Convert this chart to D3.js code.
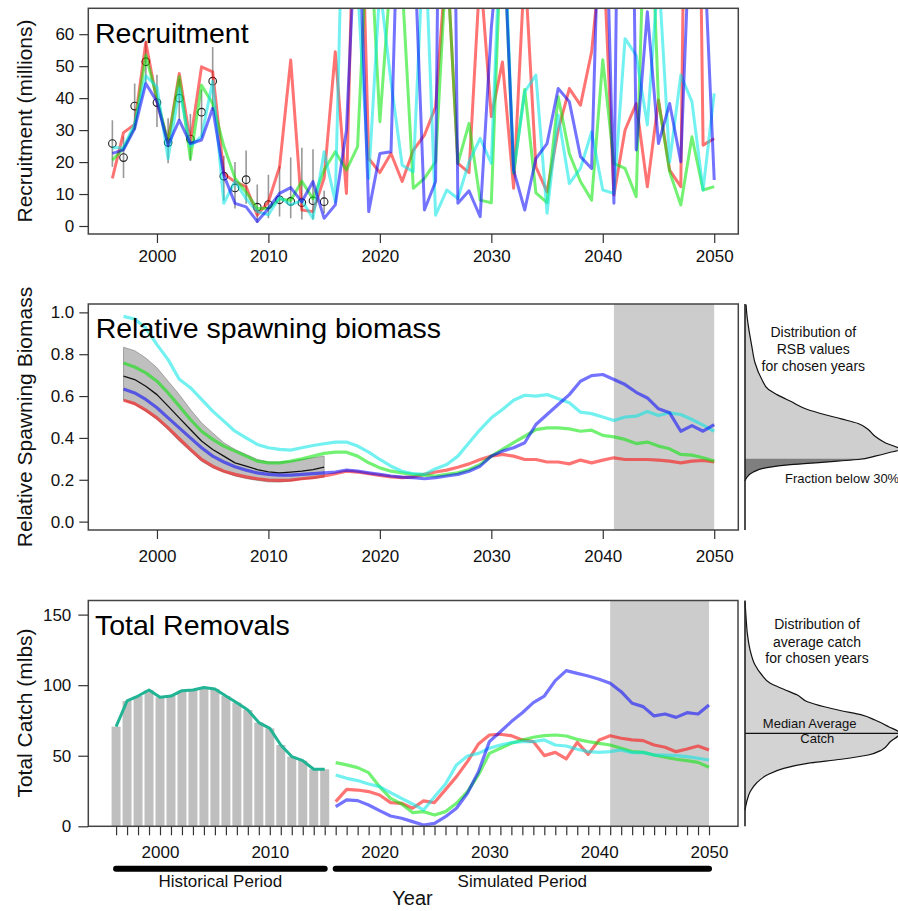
<!DOCTYPE html>
<html><head><meta charset="utf-8">
<script src="https://cdn.jsdelivr.net/npm/d3@7"></script>
<style>
body{margin:0;background:#fff}
svg{display:block}
text{font-family:"Liberation Sans",Arial,Helvetica,sans-serif}
</style>
</head><body>
<svg id="c" width="898" height="911"></svg>
<script>
// ---------------- DATA ----------------
const recYears = d3.range(1996, 2051);
const obsYears = d3.range(1996, 2016);
const recObs   = [25.8,21.4,37.5,51.4,38.6,26.1,40.0,27.2,35.6,45.3,15.6,11.9,14.5,5.9,6.7,8.2,7.7,7.3,7.9,7.6];
const recObsHi = [33.1,28.0,44.6,58.0,47.3,33.7,46.0,35.0,42.6,56.0,22.0,20.0,23.6,13.0,16.0,18.8,21.4,24.5,24.0,11.0];
const recObsLo = [18.5,15.0,30.0,45.0,31.0,19.6,33.0,20.3,28.0,36.0,8.0,5.5,7.0,1.0,2.4,3.0,2.4,2.0,2.0,4.0];

const recRed = [14.9,29.2,31.8,57.4,38.9,26.4,47.7,26.4,49.8,48.2,16.4,13.8,12.3,3.4,7.6,18.5,51.9,5.0,4.5,15.0,
  54.5,10.2,150,21.1,16.7,22.7,13.9,23.7,28.4,37.3,85,19.6,16.7,80,34.2,51.3,11.8,82,18.5,10.7,
  30,43,37.8,54.5,90,9.7,30,38.3,12.3,39.4,17.5,12.3,300,25.3,27.4];
const recGreen = [20.6,24.3,31.0,53.4,40.0,26.0,46.7,21.0,44.0,38.3,25.0,15.0,10.5,5.5,5.5,8.5,8.0,14.0,8.5,17.5,
  23.2,17.5,24.8,100,32.6,80,76,11.8,14.9,20.1,85,19.6,32.1,8.1,7.3,101,16.5,42.7,10.4,7.3,
  40.4,22.7,13.9,8.1,52,19.6,18,9.2,130,38.9,17,6.6,27.9,11.25,12.3];
const recCyan = [24.5,24.5,32.0,47.0,43.5,21.0,43.0,25.0,28.0,45.3,7.1,14.0,8.5,4.5,3.5,9.0,6.6,8.0,2.4,23.2,
  7.6,150,75,14.9,75,45.1,19,17,95,3.4,11.25,8.6,20.1,27.4,19.6,108,17,42,47.2,4,
  34.7,13.3,18,29.5,11.25,10.2,58.6,53.4,31.6,80,20,47.2,38.9,11.25,41.5];
const recBlue = [22.7,23.8,30.5,44.6,38.9,25.3,33.1,25.8,26.9,36.8,15.9,7.1,6.0,1.4,5.5,10.2,12.0,7.6,13.9,2.4,
  6.6,30,107,4.5,22.7,23.2,147,96,5,13.9,340,7.1,11,2.9,62,100,17.5,5,21.1,25.8,
  43,38.9,21.7,18,140,7.1,300,23.75,67,25.8,38.3,20.1,110,94,14.4];

const rsbYears = d3.range(1997, 2051);
const rsbCyan = [0.981,0.968,0.925,0.846,0.774,0.68,0.64,0.584,0.528,0.48,0.432,0.40,0.369,0.353,0.345,0.342,0.353,0.364,0.372,
  0.38,0.38,0.361,0.332,0.297,0.265,0.241,0.229,0.226,0.253,0.273,0.313,0.377,0.44,0.496,0.536,0.58,0.604,0.60,0.607,
  0.587,0.568,0.523,0.516,0.50,0.483,0.50,0.504,0.526,0.507,0.52,0.512,0.488,0.461,0.432];
const rsbGreen = [0.758,0.739,0.711,0.671,0.615,0.552,0.488,0.432,0.393,0.361,0.337,0.313,0.289,0.281,0.281,0.289,0.30,0.313,0.326,
  0.332,0.332,0.313,0.281,0.257,0.241,0.233,0.226,0.222,0.218,0.226,0.233,0.249,0.273,0.313,0.345,0.377,0.408,0.44,0.448,
  0.448,0.443,0.432,0.437,0.412,0.405,0.393,0.373,0.38,0.361,0.348,0.321,0.318,0.305,0.289];
const rsbBlue = [0.634,0.615,0.584,0.544,0.496,0.448,0.40,0.353,0.313,0.285,0.262,0.246,0.233,0.226,0.222,0.222,0.226,0.229,0.233,
  0.237,0.246,0.241,0.233,0.226,0.218,0.213,0.21,0.205,0.21,0.218,0.226,0.241,0.265,0.313,0.337,0.353,0.377,0.464,0.512,
  0.56,0.607,0.671,0.698,0.703,0.679,0.655,0.618,0.591,0.539,0.52,0.432,0.459,0.432,0.464];
const rsbRed = [0.58,0.564,0.533,0.496,0.448,0.396,0.345,0.297,0.265,0.241,0.226,0.214,0.205,0.198,0.197,0.198,0.205,0.21,0.218,
  0.229,0.241,0.237,0.229,0.221,0.214,0.21,0.214,0.226,0.237,0.246,0.26,0.276,0.297,0.313,0.321,0.313,0.297,0.297,0.285,
  0.285,0.276,0.294,0.281,0.294,0.305,0.297,0.297,0.297,0.294,0.289,0.281,0.289,0.292,0.285];
const rsbHistYears = d3.range(1997, 2016);
const rsbMedian = [0.695,0.679,0.647,0.607,0.552,0.496,0.44,0.385,0.345,0.313,0.281,0.265,0.249,0.238,0.233,0.237,0.241,0.249,0.26];
const rsbUpper  = [0.833,0.817,0.782,0.735,0.671,0.607,0.536,0.472,0.424,0.377,0.345,0.321,0.297,0.285,0.285,0.289,0.297,0.305,0.313];
const rsbLower  = [0.58,0.56,0.528,0.488,0.44,0.385,0.337,0.289,0.257,0.237,0.218,0.206,0.197,0.19,0.189,0.194,0.202,0.206,0.213];

const rsbDenValue = [1.037,0.997,0.933,0.838,0.758,0.679,0.631,0.607,0.575,0.536,0.512,0.491,0.469,0.440,0.408,0.377,0.345,0.329,0.313,0.297,0.284,0.272,0.258,0.237,0.210,0.194];
const rsbDensity  = [0.007,0.011,0.022,0.044,0.065,0.109,0.152,0.207,0.294,0.403,0.512,0.621,0.730,0.795,0.839,0.904,1.0,0.926,0.839,0.730,0.512,0.294,0.142,0.054,0.011,0];
const rsbThreshold = 0.3;

const catchHistYears = d3.range(1996, 2016);
const catchHist = [70.6,88.8,92.3,96.6,91.4,92.3,96.1,96.6,98.3,97.3,92.3,87.6,82.4,73.5,69.4,57.6,49.4,46.5,40.4,40.4];
const catchSimYears = d3.range(2016, 2051);
const catchRed = [17.5,26.2,25.7,24.6,22.2,16.8,16.3,12.8,18,16.8,26,35.2,45.8,58.3,64.7,65.2,64.2,61.2,60,50.1,52.4,47.7,59.5,51,61.2,64.2,62.4,61.2,60.7,57.6,56,52.9,54.8,56.9,54.1];
const catchGreen = [45.1,43.5,41.6,38,28.1,19.8,15.8,9.7,10.4,8,10.4,16.3,24.6,36.4,51.7,55.3,58.8,61.2,63.1,64.2,64.7,64,61.6,60,58.8,57.6,55.3,52.9,52.4,50.5,48.9,47.5,46.5,45.3,41.8];
const catchCyan = [36.4,34,32.4,30,28.1,23.9,19.8,15.8,11.6,21,30,43.5,49.8,51.7,55.3,57.6,59.3,60,60,61.2,57.6,56.9,54.6,52.9,52.4,52.9,54.1,52.2,52.4,50.5,50.5,50.1,49.4,48.2,47];
const catchBlue = [13.9,18.7,18.2,15.1,11.1,7.3,5.7,3.3,0.9,2.1,6.8,12.8,23.4,38.7,60,67,74.2,80.5,87.6,92.3,103.2,110.3,108.4,106.5,104.2,101.3,95.4,87.2,84.8,78.2,79.6,77.2,80.5,79.6,86];

const catchDenValue = [159.2,148.5,136.7,124.9,114.3,107.2,101.3,97.1,93.0,88.3,84.7,81.9,78.9,75.3,70.6,65.9,59.9,54.1,50.5,47.5,44.6,41.1,36.3,30.9,24.5,17.4,11.5];
const catchDensity  = [0,0.0065,0.015,0.033,0.065,0.109,0.163,0.25,0.338,0.403,0.512,0.621,0.752,0.839,0.926,1.0,0.937,0.882,0.795,0.621,0.403,0.25,0.142,0.076,0.033,0.011,0];
const medianAvgCatch = 65.9;

const chosenYears = [2041, 2050];
const decadeTicks = [2000, 2010, 2020, 2030, 2040, 2050];
const recTicks = [0,10,20,30,40,50,60];
const rsbTicks = [0,0.2,0.4,0.6,0.8,1.0];
const catchTicks = [0,50,100,150];

const colRed = "rgba(255,0,0,0.55)", colGreen = "rgba(0,230,0,0.55)",
      colCyan = "rgba(0,230,230,0.55)", colBlue = "rgba(0,0,255,0.55)";

// ---------------- DRAW ----------------
const svg = d3.select("#c");
const FONT = '"Liberation Sans",Arial,Helvetica,sans-serif';
const L = 88.3, R = 738.3;

const xTop = d3.scaleLinear().domain([1993.84, 2052.16]).range([L, R]);
const yRec = d3.scaleLinear().domain([-2.5, 68.1]).range([234, 8.3]);
const yRsb = d3.scaleLinear().domain([-0.04, 1.04]).range([530, 304]);
const xBot = d3.scaleLinear().domain([1993.47, 2052.64]).range([L, 738]);
const yCat = d3.scaleLinear().domain([0, 160]).range([826.3, 600.5]);
const xDen = d3.scaleLinear().domain([0, 1]).range([745, 900]);

const defs = svg.append("defs");
function clip(id, x, y, w, h){ defs.append("clipPath").attr("id", id).append("rect").attr("x",x).attr("y",y).attr("width",w).attr("height",h); return `url(#${id})`; }

function series(g, xs, ys, x, y, color, w){
  g.append("path").datum(xs.map((d,i)=>[d, ys[i]]))
    .attr("fill","none").attr("stroke",color).attr("stroke-width",w||3)
    .attr("stroke-linejoin","round")
    .attr("d", d3.line().x(d=>x(d[0])).y(d=>y(d[1])));
}

function yAxis(scale, ticks, fmt, size, pad){
  const g = svg.append("g").attr("transform",`translate(${L},0)`)
    .call(d3.axisLeft(scale).tickValues(ticks).tickSize(size).tickPadding(pad).tickFormat(fmt));
  g.select(".domain").remove();
  g.attr("font-family", FONT).attr("font-size", 17);
  g.selectAll(".tick line").attr("stroke","#333").attr("stroke-width",1.2);
  g.selectAll(".tick text").attr("fill","#111");
}
function xAxis(scale, y0, ticks, labelFilter, baseline){
  const g = svg.append("g").attr("transform",`translate(0,${y0})`)
    .call(d3.axisBottom(scale).tickValues(ticks).tickSize(9).tickFormat(d => labelFilter(d) ? d : ""));
  g.select(".domain").remove();
  g.attr("font-family", FONT).attr("font-size", 17);
  g.selectAll(".tick line").attr("stroke","#333").attr("stroke-width",1.2);
  g.selectAll(".tick text").attr("fill","#111").attr("y", baseline - y0).attr("dy", 0);
}
function box(x0,y0,x1,y1){
  svg.append("rect").attr("x",x0).attr("y",y0).attr("width",x1-x0).attr("height",y1-y0)
    .attr("fill","none").attr("stroke","#444").attr("stroke-width",1.5);
}
function ylabel(txt, cy){
  svg.append("text").attr("transform",`translate(32,${cy}) rotate(-90)`)
    .attr("text-anchor","middle").attr("font-size",21).attr("fill","#111").text(txt);
}
function title(txt, x, y){
  svg.append("text").attr("x",x).attr("y",y).attr("font-size",28.5).attr("fill","#000").text(txt);
}

// ===== Panel 1: Recruitment =====
const g1 = svg.append("g").attr("clip-path", clip("c1", L, 8.3, R-L, 234-8.3));
obsYears.forEach((yr,i)=>{
  g1.append("line").attr("x1",xTop(yr)).attr("x2",xTop(yr))
    .attr("y1",yRec(recObsLo[i])).attr("y2",yRec(recObsHi[i]))
    .attr("stroke","#999").attr("stroke-width",1.6);
});
g1.selectAll("circle.obs").data(obsYears).enter().append("circle")
  .attr("cx",d=>xTop(d)).attr("cy",(d,i)=>yRec(recObs[i])).attr("r",3.8)
  .attr("fill","none").attr("stroke","#222").attr("stroke-width",1.1);
series(g1, recYears, recRed, xTop, yRec, colRed);
series(g1, recYears, recGreen, xTop, yRec, colGreen);
series(g1, recYears, recCyan, xTop, yRec, colCyan);
series(g1, recYears, recBlue, xTop, yRec, colBlue);
box(L, 8.3, R, 234);
yAxis(yRec, recTicks, d3.format("d"), 9, 5);
xAxis(xTop, 234, decadeTicks, ()=>true, 262.3);
ylabel("Recruitment (millions)", 121);
title("Recruitment", 95, 43.3);

// ===== Panel 2: RSB =====
const g2 = svg.append("g").attr("clip-path", clip("c2", L, 304, R-L, 226));
g2.append("rect").attr("x",xTop(chosenYears[0])).attr("width",xTop(chosenYears[1])-xTop(chosenYears[0]))
  .attr("y",304).attr("height",226).attr("fill","#cccccc");
g2.append("path").datum(rsbHistYears.map((d,i)=>[d, rsbUpper[i], rsbLower[i]]))
  .attr("fill","rgba(128,128,128,0.5)").attr("stroke","#888").attr("stroke-width",0.7)
  .attr("d", d3.area().x(d=>xTop(d[0])).y0(d=>yRsb(d[2])).y1(d=>yRsb(d[1])));
series(g2, rsbHistYears, rsbMedian, xTop, yRsb, "#111", 1.3);
series(g2, rsbYears, rsbRed, xTop, yRsb, colRed, 3.2);
series(g2, rsbYears, rsbGreen, xTop, yRsb, colGreen, 3.2);
series(g2, rsbYears, rsbCyan, xTop, yRsb, colCyan, 3.2);
series(g2, rsbYears, rsbBlue, xTop, yRsb, colBlue, 3.2);
box(L, 304, R, 530);
yAxis(yRsb, rsbTicks, d3.format(".1f"), 9, 5);
xAxis(xTop, 530, decadeTicks, ()=>true, 561.7);
ylabel("Relative Spawning Biomass", 417);
title("Relative spawning biomass", 95.7, 338);

// RSB density
const rsbDen = rsbDenValue.map((v,i)=>({v, d:rsbDensity[i]}));
const areaR = d3.area().curve(d3.curveMonotoneY).y(d=>yRsb(d.v)).x0(xDen(0)).x1(d=>xDen(d.d));
const lineR = d3.line().curve(d3.curveMonotoneY).y(d=>yRsb(d.v)).x(d=>xDen(d.d));
svg.append("path").datum(rsbDen).attr("fill","#cfcfcf").attr("d", areaR);
const cth = clip("cth", 740, yRsb(rsbThreshold), 170, 100);
svg.append("path").datum(rsbDen).attr("fill","#7f7f7f").attr("clip-path", cth).attr("d", areaR);
svg.append("path").datum(rsbDen).attr("fill","none").attr("stroke","#111").attr("stroke-width",1.2).attr("d", lineR);
svg.append("line").attr("x1",745).attr("x2",745).attr("y1",304).attr("y2",530).attr("stroke","#222").attr("stroke-width",1.6);
[["Distribution of",336.7],["RSB values",354],["for chosen years",371.3]].forEach(t=>{
  svg.append("text").attr("x",813.3).attr("y",t[1]).attr("text-anchor","middle").attr("font-size",14).attr("fill","#111").text(t[0]);
});
svg.append("text").attr("x",785).attr("y",483.3).attr("font-size",13).attr("fill","#111").text("Fraction below 30%");

// ===== Panel 3: Total Removals =====
const g3 = svg.append("g").attr("clip-path", clip("c3", L, 600.5, 738-L, 826.3-600.5));
g3.append("rect").attr("x",xBot(chosenYears[0])).attr("width",xBot(chosenYears[1])-xBot(chosenYears[0]))
  .attr("y",600.5).attr("height",226).attr("fill","#cccccc");
const bw = 9.0;
g3.selectAll("rect.bar").data(catchHistYears).enter().append("rect")
  .attr("x",d=>xBot(d)-bw/2).attr("width",bw)
  .attr("y",(d,i)=>yCat(catchHist[i])).attr("height",(d,i)=>yCat(0)-yCat(catchHist[i]))
  .attr("fill","#bfbfbf");
series(g3, catchHistYears, catchHist, xBot, yCat, "#20b495", 3);
series(g3, catchSimYears, catchRed, xBot, yCat, colRed, 3.2);
series(g3, catchSimYears, catchGreen, xBot, yCat, colGreen, 3.2);
series(g3, catchSimYears, catchCyan, xBot, yCat, colCyan, 3.2);
series(g3, catchSimYears, catchBlue, xBot, yCat, colBlue, 3.2);
box(L, 600.5, 738, 826.3);
yAxis(yCat, catchTicks, d3.format("d"), 10, 7);
xAxis(xBot, 826.3, recYears, d=>d%10===0, 858.3);
ylabel("Total Catch (mlbs)", 713);
title("Total Removals", 95, 635);

// catch density
const catDen = catchDenValue.map((v,i)=>({v, d:catchDensity[i]}));
const areaC = d3.area().curve(d3.curveMonotoneY).y(d=>yCat(d.v)).x0(xDen(0)).x1(d=>xDen(d.d));
const lineC = d3.line().curve(d3.curveMonotoneY).y(d=>yCat(d.v)).x(d=>xDen(d.d));
svg.append("path").datum(catDen).attr("fill","#d3d3d3").attr("d", areaC);
svg.append("path").datum(catDen).attr("fill","none").attr("stroke","#111").attr("stroke-width",1.2).attr("d", lineC);
svg.append("line").attr("x1",745).attr("x2",898).attr("y1",yCat(medianAvgCatch)).attr("y2",yCat(medianAvgCatch)).attr("stroke","#111").attr("stroke-width",1.2);
svg.append("line").attr("x1",745).attr("x2",745).attr("y1",600.5).attr("y2",826.3).attr("stroke","#222").attr("stroke-width",1.6);
[["Distribution of",629],["average catch",646.7],["for chosen years",663.3]].forEach(t=>{
  svg.append("text").attr("x",817).attr("y",t[1]).attr("text-anchor","middle").attr("font-size",14).attr("fill","#111").text(t[0]);
});
svg.append("text").attr("x",809.7).attr("y",728.3).attr("text-anchor","middle").attr("font-size",13).attr("fill","#111").text("Median Average");
svg.append("text").attr("x",817.3).attr("y",743.3).attr("text-anchor","middle").attr("font-size",13).attr("fill","#111").text("Catch");

// period bars
const periods = [["Historical Period",1996,2015],["Simulated Period",2016,2050]];
periods.forEach(p=>{
  svg.append("line").attr("x1",xBot(p[1])).attr("x2",xBot(p[2])).attr("y1",868.7).attr("y2",868.7)
    .attr("stroke","#000").attr("stroke-width",6).attr("stroke-linecap","round");
  svg.append("text").attr("x",(xBot(p[1])+xBot(p[2]))/2).attr("y",886.7).attr("text-anchor","middle")
    .attr("font-size",17).attr("fill","#111").text(p[0]);
});
svg.append("text").attr("x",412.5).attr("y",905).attr("text-anchor","middle").attr("font-size",20).attr("fill","#111").text("Year");
</script>
</body></html>
